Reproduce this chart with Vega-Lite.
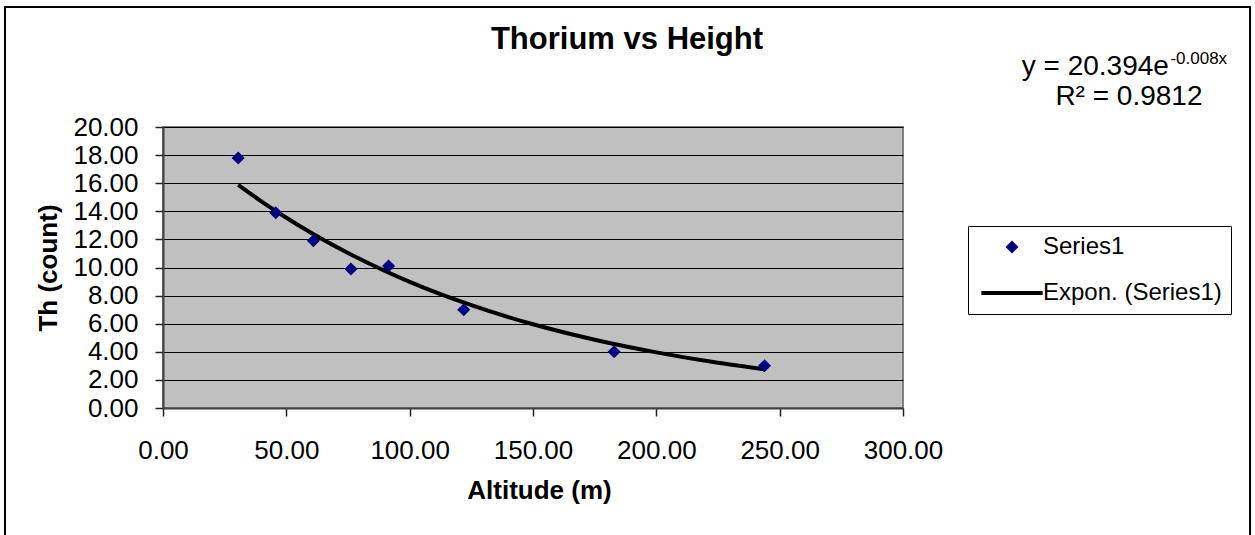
{
  "$schema": "https://vega.github.io/schema/vega-lite/v6.json",
  "width": 740,
  "height": 281,
  "autosize": {"type": "none"},
  "padding": {"left": 163, "top": 127, "right": 352, "bottom": 127},
  "background": "white",
  "title": {
    "text": "Thorium vs Height",
    "font": "Liberation Sans",
    "fontSize": 31,
    "fontWeight": "bold",
    "color": "#000000",
    "anchor": "middle",
    "frame": "group",
    "baseline": "alphabetic",
    "dx": 94,
    "dy": 77,
    "offset": 3
  },
  "config": {
    "view": {"fill": "#C0C0C0", "stroke": "#808080", "strokeWidth": 2},
    "axis": {
      "labelFont": "Liberation Sans",
      "labelFontSize": 26,
      "labelColor": "#000000",
      "labelOverlap": false,
      "labelFlush": false,
      "titleFont": "Liberation Sans",
      "titleFontSize": 26,
      "titleFontWeight": "bold",
      "titleColor": "#000000",
      "domainColor": "#404040",
      "domainWidth": 2,
      "tickColor": "#202020",
      "tickWidth": 1.5,
      "tickSize": 8
    },
    "legend": {
      "labelFont": "Liberation Sans",
      "labelFontSize": 24,
      "labelColor": "#000000"
    }
  },
  "layer": [
    {
      "data": {"values": [{"kind": "border"}]},
      "mark": {"type": "rect", "fill": null, "fillOpacity": 0, "stroke": "#000000", "strokeWidth": 2, "clip": false},
      "encoding": {
        "x": {"datum": -64.05, "type": "quantitative", "scale": {"domain": [0, 300], "nice": false, "zero": false},
          "axis": {"values": [0, 50, 100, 150, 200, 250, 300], "format": ".2f", "grid": false, "labelPadding": 21, "title": "Altitude (m)", "titleX": 376, "titleY": 90, "titleAlign": "center", "titleBaseline": "alphabetic"}},
        "x2": {"datum": 440.7},
        "y": {"datum": 28.54, "type": "quantitative", "scale": {"domain": [0, 20], "nice": false},
          "axis": {"values": [0, 2, 4, 6, 8, 10, 12, 14, 16, 18, 20], "format": ".2f", "grid": true, "gridColor": "#000000", "gridWidth": 1.2, "labelPadding": 17, "title": "Th (count)", "titleX": -107, "titleBaseline": "alphabetic"}},
        "y2": {"datum": -10}
      }
    },
    {
      "data": {"values": [
        {"x": 30.48, "y": 15.88},
        {"x": 40, "y": 14.69},
        {"x": 50, "y": 13.54},
        {"x": 60, "y": 12.47},
        {"x": 75, "y": 11.03},
        {"x": 90, "y": 9.75},
        {"x": 100, "y": 8.98},
        {"x": 125, "y": 7.32},
        {"x": 150, "y": 5.96},
        {"x": 175, "y": 4.86},
        {"x": 200, "y": 3.96},
        {"x": 225, "y": 3.22},
        {"x": 243.84, "y": 2.76}
      ]},
      "mark": {"type": "line", "color": "#000000", "strokeWidth": 4, "interpolate": "monotone"},
      "encoding": {
        "x": {"field": "x", "type": "quantitative", "scale": {"domain": [0, 300], "nice": false, "zero": false},
          "axis": {"values": [0, 50, 100, 150, 200, 250, 300], "format": ".2f", "grid": false, "labelPadding": 21, "title": "Altitude (m)", "titleX": 376, "titleY": 90, "titleAlign": "center", "titleBaseline": "alphabetic"}},
        "y": {"field": "y", "type": "quantitative", "scale": {"domain": [0, 20], "nice": false},
          "axis": {"values": [0, 2, 4, 6, 8, 10, 12, 14, 16, 18, 20], "format": ".2f", "grid": true, "gridColor": "#000000", "gridWidth": 1.2, "labelPadding": 17, "title": "Th (count)", "titleX": -107, "titleBaseline": "alphabetic"}}
      }
    },
    {
      "data": {"values": [
        {"x": 30.48, "y": 17.8, "series": "Series1"},
        {"x": 45.72, "y": 13.9, "series": "Series1"},
        {"x": 60.96, "y": 11.9, "series": "Series1"},
        {"x": 76.2, "y": 9.9, "series": "Series1"},
        {"x": 91.44, "y": 10.1, "series": "Series1"},
        {"x": 121.92, "y": 7.0, "series": "Series1"},
        {"x": 182.88, "y": 4.0, "series": "Series1"},
        {"x": 243.84, "y": 3.0, "series": "Series1"}
      ]},
      "mark": {"type": "point", "shape": "diamond", "filled": true, "size": 170, "opacity": 1},
      "encoding": {
        "x": {"field": "x", "type": "quantitative", "scale": {"domain": [0, 300], "nice": false, "zero": false},
          "axis": {"values": [0, 50, 100, 150, 200, 250, 300], "format": ".2f", "grid": false, "labelPadding": 21, "title": "Altitude (m)", "titleX": 376, "titleY": 90, "titleAlign": "center", "titleBaseline": "alphabetic"}},
        "y": {"field": "y", "type": "quantitative", "scale": {"domain": [0, 20], "nice": false},
          "axis": {"values": [0, 2, 4, 6, 8, 10, 12, 14, 16, 18, 20], "format": ".2f", "grid": true, "gridColor": "#000000", "gridWidth": 1.2, "labelPadding": 17, "title": "Th (count)", "titleX": -107, "titleBaseline": "alphabetic"}},
        "color": {
          "field": "series", "type": "nominal",
          "scale": {"domain": ["Series1", "Expon. (Series1)"], "range": ["#000080", "#000000"]},
          "legend": {
            "title": null,
            "orient": "none",
            "legendX": 805,
            "legendY": 99,
            "padding": 9,
            "rowPadding": 19,
            "strokeColor": "#000000",
            "fillColor": "#ffffff",
            "symbolSize": 170,
            "symbolOffset": 23,
            "labelOffset": 19,
            "labelLimit": 400,
            "symbolType": {"expr": "datum.value === 'Series1' ? 'diamond' : 'M-4.7,0L4.7,0'"},
            "symbolStrokeColor": {"expr": "datum.value === 'Series1' ? 'transparent' : '#000000'"},
            "symbolStrokeWidth": 4,
            "symbolOpacity": 1
          }
        }
      }
    },
    {
      "data": {"values": [{"label": "y = 20.394e"}]},
      "mark": {"type": "text", "font": "Liberation Sans", "fontSize": 28, "align": "right", "baseline": "alphabetic", "color": "#000000"},
      "encoding": {
        "x": {"datum": 407.8, "type": "quantitative", "scale": {"domain": [0, 300], "nice": false, "zero": false},
          "axis": {"values": [0, 50, 100, 150, 200, 250, 300], "format": ".2f", "grid": false, "labelPadding": 21, "title": "Altitude (m)", "titleX": 376, "titleY": 90, "titleAlign": "center", "titleBaseline": "alphabetic"}},
        "y": {"datum": 23.7, "type": "quantitative", "scale": {"domain": [0, 20], "nice": false},
          "axis": {"values": [0, 2, 4, 6, 8, 10, 12, 14, 16, 18, 20], "format": ".2f", "grid": true, "gridColor": "#000000", "gridWidth": 1.2, "labelPadding": 17, "title": "Th (count)", "titleX": -107, "titleBaseline": "alphabetic"}},
        "text": {"field": "label"}
      }
    },
    {
      "data": {"values": [{"label": "-0.008x"}]},
      "mark": {"type": "text", "font": "Liberation Sans", "fontSize": 17, "align": "left", "baseline": "alphabetic", "color": "#000000"},
      "encoding": {
        "x": {"datum": 408.4, "type": "quantitative", "scale": {"domain": [0, 300], "nice": false, "zero": false},
          "axis": {"values": [0, 50, 100, 150, 200, 250, 300], "format": ".2f", "grid": false, "labelPadding": 21, "title": "Altitude (m)", "titleX": 376, "titleY": 90, "titleAlign": "center", "titleBaseline": "alphabetic"}},
        "y": {"datum": 24.45, "type": "quantitative", "scale": {"domain": [0, 20], "nice": false},
          "axis": {"values": [0, 2, 4, 6, 8, 10, 12, 14, 16, 18, 20], "format": ".2f", "grid": true, "gridColor": "#000000", "gridWidth": 1.2, "labelPadding": 17, "title": "Th (count)", "titleX": -107, "titleBaseline": "alphabetic"}},
        "text": {"field": "label"}
      }
    },
    {
      "data": {"values": [{"label": "R² = 0.9812"}]},
      "mark": {"type": "text", "font": "Liberation Sans", "fontSize": 28, "align": "center", "baseline": "alphabetic", "color": "#000000"},
      "encoding": {
        "x": {"datum": 391.6, "type": "quantitative", "scale": {"domain": [0, 300], "nice": false, "zero": false},
          "axis": {"values": [0, 50, 100, 150, 200, 250, 300], "format": ".2f", "grid": false, "labelPadding": 21, "title": "Altitude (m)", "titleX": 376, "titleY": 90, "titleAlign": "center", "titleBaseline": "alphabetic"}},
        "y": {"datum": 21.57, "type": "quantitative", "scale": {"domain": [0, 20], "nice": false},
          "axis": {"values": [0, 2, 4, 6, 8, 10, 12, 14, 16, 18, 20], "format": ".2f", "grid": true, "gridColor": "#000000", "gridWidth": 1.2, "labelPadding": 17, "title": "Th (count)", "titleX": -107, "titleBaseline": "alphabetic"}},
        "text": {"field": "label"}
      }
    }
  ]
}
